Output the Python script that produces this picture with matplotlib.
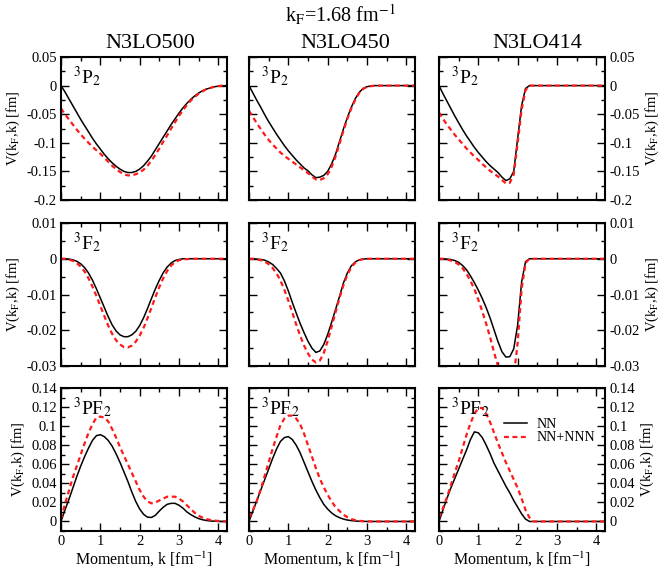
import matplotlib
matplotlib.use('Agg')
import matplotlib.pyplot as plt
from matplotlib.ticker import MultipleLocator, FuncFormatter

plt.rcParams['font.family'] = ['Liberation Serif', 'DejaVu Serif']
plt.rcParams['mathtext.fontset'] = 'stix'
plt.rcParams['axes.unicode_minus'] = False

# momentum grid [fm^-1]
k = [0.0, 0.1, 0.2, 0.3, 0.4, 0.5, 0.6, 0.7, 0.8, 0.9,
     1.0, 1.1, 1.2, 1.3, 1.4, 1.5, 1.6, 1.7, 1.8, 1.9,
     2.0, 2.1, 2.2, 2.3, 2.4, 2.5, 2.6, 2.7, 2.8, 2.9,
     3.0, 3.1, 3.2, 3.3, 3.4, 3.5, 3.6, 3.7, 3.8, 3.9,
     4.0, 4.1, 4.2]

# 3P2
p2_500_nn = [0.0, -0.011, -0.023, -0.035, -0.047, -0.059, -0.070, -0.081, -0.092, -0.102,
             -0.111, -0.120, -0.128, -0.135, -0.141, -0.146, -0.150, -0.152, -0.152, -0.150,
             -0.146, -0.140, -0.132, -0.123, -0.112, -0.101, -0.090, -0.079, -0.068, -0.058,
             -0.048, -0.039, -0.031, -0.024, -0.018, -0.013, -0.009, -0.006, -0.004, -0.002,
             -0.001, -0.0005, 0.0]
p2_500_3n = [-0.040, -0.050, -0.059, -0.068, -0.077, -0.085, -0.093, -0.100, -0.107, -0.113,
             -0.119, -0.126, -0.133, -0.140, -0.146, -0.151, -0.155, -0.157, -0.157, -0.155,
             -0.152, -0.147, -0.140, -0.131, -0.121, -0.110, -0.098, -0.087, -0.075, -0.064,
             -0.053, -0.043, -0.034, -0.026, -0.020, -0.014, -0.010, -0.006, -0.004, -0.002,
             -0.001, 0.0, 0.0]
p2_450_nn = [0.0, -0.013, -0.026, -0.038, -0.051, -0.063, -0.074, -0.085, -0.095, -0.105,
             -0.114, -0.122, -0.130, -0.137, -0.144, -0.149, -0.156, -0.161, -0.160, -0.157,
             -0.150, -0.137, -0.120, -0.098, -0.076, -0.056, -0.038, -0.023, -0.012, -0.005,
             -0.002, -0.0005, 0.0, 0.0, 0.0, 0.0, 0.0, 0.0, 0.0, 0.0,
             0.0, 0.0, 0.0]
p2_450_3n = [-0.044, -0.055, -0.066, -0.076, -0.086, -0.095, -0.103, -0.110, -0.117, -0.123,
             -0.128, -0.133, -0.138, -0.143, -0.148, -0.153, -0.159, -0.164, -0.165, -0.162,
             -0.155, -0.142, -0.124, -0.102, -0.079, -0.058, -0.040, -0.025, -0.013, -0.006,
             -0.002, -0.001, 0.0, 0.0, 0.0, 0.0, 0.0, 0.0, 0.0, 0.0,
             0.0, 0.0, 0.0]
p2_414_nn = [0.0, -0.014, -0.027, -0.040, -0.053, -0.065, -0.077, -0.088, -0.098, -0.108,
             -0.117, -0.125, -0.133, -0.140, -0.146, -0.152, -0.160, -0.166, -0.163, -0.150,
             -0.092, -0.035, -0.005, 0.0, 0.0, 0.0, 0.0, 0.0, 0.0, 0.0,
             0.0, 0.0, 0.0, 0.0, 0.0, 0.0, 0.0, 0.0, 0.0, 0.0,
             0.0, 0.0, 0.0]
p2_414_3n = [-0.047, -0.058, -0.068, -0.077, -0.086, -0.094, -0.102, -0.110, -0.117, -0.124,
             -0.130, -0.137, -0.143, -0.149, -0.154, -0.159, -0.165, -0.171, -0.170, -0.155,
             -0.100, -0.042, -0.008, 0.0, 0.0, 0.0, 0.0, 0.0, 0.0, 0.0,
             0.0, 0.0, 0.0, 0.0, 0.0, 0.0, 0.0, 0.0, 0.0, 0.0,
             0.0, 0.0, 0.0]

# 3F2
f2_500_nn = [0.0, 0.0, -0.0001, -0.0003, -0.0007, -0.0014, -0.0025, -0.0040, -0.0060, -0.0084,
             -0.0110, -0.0136, -0.0162, -0.0185, -0.0202, -0.0213, -0.0218, -0.0218, -0.0213, -0.0203,
             -0.0187, -0.0165, -0.0139, -0.0111, -0.0084, -0.0060, -0.0039, -0.0023, -0.0012, -0.0005,
             -0.0002, 0.0, 0.0, 0.0, 0.0, 0.0, 0.0, 0.0, 0.0, 0.0,
             0.0, 0.0, 0.0]
f2_500_3n = [0.0, 0.0, -0.0002, -0.0006, -0.0012, -0.0022, -0.0036, -0.0055, -0.0078, -0.0104,
             -0.0132, -0.0160, -0.0187, -0.0210, -0.0228, -0.0240, -0.0247, -0.0248, -0.0243, -0.0232,
             -0.0215, -0.0193, -0.0166, -0.0137, -0.0107, -0.0079, -0.0054, -0.0034, -0.0019, -0.0009,
             -0.0004, -0.0002, -0.0001, 0.0, 0.0, 0.0, 0.0, 0.0, 0.0, 0.0,
             0.0, 0.0, 0.0]
f2_450_nn = [0.0, 0.0, -0.0001, -0.0002, -0.0004, -0.0009, -0.0016, -0.0027, -0.0040, -0.0062,
             -0.0090, -0.0122, -0.0152, -0.0181, -0.0207, -0.0231, -0.0250, -0.0262, -0.0258, -0.0240,
             -0.0212, -0.0178, -0.0142, -0.0106, -0.0068, -0.0040, -0.0020, -0.0009, -0.0003, -0.0001,
             0.0, 0.0, 0.0, 0.0, 0.0, 0.0, 0.0, 0.0, 0.0, 0.0,
             0.0, 0.0, 0.0]
f2_450_3n = [0.0, 0.0, -0.0002, -0.0004, -0.0008, -0.0015, -0.0026, -0.0041, -0.0061, -0.0087,
             -0.0117, -0.0150, -0.0184, -0.0215, -0.0243, -0.0265, -0.0282, -0.0290, -0.0285, -0.0264,
             -0.0230, -0.0190, -0.0150, -0.0110, -0.0074, -0.0045, -0.0024, -0.0011, -0.0004, -0.0001,
             0.0, 0.0, 0.0, 0.0, 0.0, 0.0, 0.0, 0.0, 0.0, 0.0,
             0.0, 0.0, 0.0]
f2_414_nn = [0.0, 0.0, -0.0001, -0.0002, -0.0005, -0.0010, -0.0019, -0.0031, -0.0048, -0.0067,
             -0.0088, -0.0111, -0.0137, -0.0166, -0.0199, -0.0232, -0.0260, -0.0275, -0.0274, -0.0252,
             -0.0185, -0.0065, -0.0008, 0.0, 0.0, 0.0, 0.0, 0.0, 0.0, 0.0,
             0.0, 0.0, 0.0, 0.0, 0.0, 0.0, 0.0, 0.0, 0.0, 0.0,
             0.0, 0.0, 0.0]
f2_414_3n = [0.0, 0.0, -0.0002, -0.0005, -0.0009, -0.0016, -0.0027, -0.0042, -0.0062, -0.0085,
             -0.0115, -0.0147, -0.0182, -0.0220, -0.0262, -0.0300, -0.0325, -0.0338, -0.0338, -0.0330,
             -0.0235, -0.0085, -0.0012, 0.0, 0.0, 0.0, 0.0, 0.0, 0.0, 0.0,
             0.0, 0.0, 0.0, 0.0, 0.0, 0.0, 0.0, 0.0, 0.0, 0.0,
             0.0, 0.0, 0.0]

# 3PF2
pf2_500_nn = [0.0, 0.012, 0.023, 0.035, 0.047, 0.058, 0.068, 0.077, 0.085, 0.090,
              0.091, 0.089, 0.085, 0.079, 0.071, 0.062, 0.052, 0.042, 0.031, 0.021,
              0.013, 0.0075, 0.0045, 0.0042, 0.0065, 0.011, 0.015, 0.018, 0.019, 0.019,
              0.017, 0.014, 0.010, 0.0072, 0.0048, 0.0030, 0.0018, 0.0010, 0.0005, 0.0003,
              0.0001, 0.0, 0.0]
pf2_500_3n = [0.003, 0.018, 0.032, 0.046, 0.058, 0.070, 0.082, 0.093, 0.102, 0.109,
              0.110, 0.109, 0.105, 0.097, 0.088, 0.078, 0.069, 0.060, 0.051, 0.042,
              0.033, 0.026, 0.021, 0.019, 0.020, 0.022, 0.024, 0.026, 0.026, 0.026,
              0.024, 0.021, 0.017, 0.013, 0.009, 0.006, 0.004, 0.0025, 0.0015, 0.001,
              0.0005, 0.0002, 0.0]
pf2_450_nn = [0.0, 0.011, 0.022, 0.033, 0.044, 0.055, 0.066, 0.076, 0.084, 0.088,
              0.089, 0.086, 0.080, 0.072, 0.062, 0.052, 0.042, 0.033, 0.025, 0.018,
              0.013, 0.009, 0.006, 0.004, 0.0025, 0.0015, 0.0009, 0.0005, 0.0002, 0.0001,
              0.0, 0.0, 0.0, 0.0, 0.0, 0.0, 0.0, 0.0, 0.0, 0.0,
              0.0, 0.0, 0.0]
pf2_450_3n = [0.004, 0.012, 0.022, 0.034, 0.048, 0.062, 0.076, 0.089, 0.101, 0.108,
              0.111, 0.111, 0.108, 0.102, 0.092, 0.080, 0.068, 0.056, 0.045, 0.036,
              0.028, 0.021, 0.015, 0.011, 0.007, 0.0045, 0.0025, 0.0014, 0.0007, 0.0003,
              0.0001, 0.0, 0.0, 0.0, 0.0, 0.0, 0.0, 0.0, 0.0, 0.0,
              0.0, 0.0, 0.0]
pf2_414_nn = [0.0, 0.012, 0.024, 0.035, 0.045, 0.055, 0.065, 0.075, 0.086, 0.094,
              0.093, 0.088, 0.080, 0.071, 0.061, 0.053, 0.045, 0.037, 0.030, 0.022,
              0.015, 0.008, 0.0025, 0.0, 0.0, 0.0, 0.0, 0.0, 0.0, 0.0,
              0.0, 0.0, 0.0, 0.0, 0.0, 0.0, 0.0, 0.0, 0.0, 0.0,
              0.0, 0.0, 0.0]
pf2_414_3n = [0.004, 0.014, 0.025, 0.038, 0.051, 0.063, 0.077, 0.091, 0.103, 0.113,
              0.119, 0.119, 0.113, 0.104, 0.093, 0.082, 0.072, 0.062, 0.053, 0.044,
              0.035, 0.024, 0.012, 0.004, 0.0, 0.0, 0.0, 0.0, 0.0, 0.0,
              0.0, 0.0, 0.0, 0.0, 0.0, 0.0, 0.0, 0.0, 0.0, 0.0,
              0.0, 0.0, 0.0]

models = ['N3LO500', 'N3LO450', 'N3LO414']
waves = ['$^3$P$_2$', '$^3$F$_2$', '$^3$PF$_2$']
nn = [[p2_500_nn, p2_450_nn, p2_414_nn],
      [f2_500_nn, f2_450_nn, f2_414_nn],
      [pf2_500_nn, pf2_450_nn, pf2_414_nn]]
nnn = [[p2_500_3n, p2_450_3n, p2_414_3n],
       [f2_500_3n, f2_450_3n, f2_414_3n],
       [pf2_500_3n, pf2_450_3n, pf2_414_3n]]

ylims = [(-0.2, 0.05), (-0.03, 0.01), (-0.01, 0.14)]
ymajor = [0.05, 0.01, 0.02]
yminor = [0.025, 0.005, 0.01]


def fmt(v, pos):
    if abs(v) < 1e-9:
        return '0'
    return '%g' % round(v, 4)


W, H = 664, 570
lefts = [61, 249, 439]
tops = [57, 223, 388]
aw, ah = 166, 143

fig = plt.figure(figsize=(W / 100, H / 100), dpi=100)

for r in range(3):
    for c in range(3):
        ax = fig.add_axes([lefts[c] / W, 1 - (tops[r] + ah) / H, aw / W, ah / H])
        ax.plot(k, nn[r][c], color='black', lw=1.1, label='NN')
        ax.plot(k, nnn[r][c], color='#ff1a1a', lw=1.6, linestyle=(0, (2.2, 1.6)),
                label='NN+NNN')
        ax.set_xlim(0, 4.22)
        ax.set_ylim(*ylims[r])
        ax.xaxis.set_major_locator(MultipleLocator(1))
        ax.xaxis.set_minor_locator(MultipleLocator(0.5))
        ax.yaxis.set_major_locator(MultipleLocator(ymajor[r]))
        ax.yaxis.set_minor_locator(MultipleLocator(yminor[r]))
        ax.yaxis.set_major_formatter(FuncFormatter(fmt))
        ax.tick_params(which='both', direction='in', top=True, right=True,
                       labelsize=10.5, width=1.0, pad=3)
        ax.tick_params(which='major', length=5.5)
        ax.tick_params(which='minor', length=3)
        for sp in ax.spines.values():
            sp.set_linewidth(1.5)
        ax.text(0.07, 0.95, waves[r], transform=ax.transAxes, fontsize=14,
                ha='left', va='top')

        if r < 2:
            ax.tick_params(labelbottom=False)
        else:
            ax.set_xlabel('Momentum, k [fm$^{-1}$]', fontsize=11.5, labelpad=1)

        if c == 0:
            ax.set_ylabel('V(k$_\\mathrm{F}$,k) [fm]', fontsize=10.5, labelpad=3)
        elif c == 1:
            ax.tick_params(labelleft=False)
        else:
            ax.tick_params(labelleft=False, labelright=True)
            ax.yaxis.set_label_position('right')
            ax.set_ylabel('V(k$_\\mathrm{F}$,k) [fm]', fontsize=10.5, labelpad=3)

        if r == 2 and c == 2:
            ax.legend(loc='upper right', bbox_to_anchor=(0.99, 0.85), frameon=False,
                      fontsize=10, handlelength=1.6, labelspacing=0.05,
                      handletextpad=0.7, borderaxespad=0.2)

title_x = [150, 345, 537]
for c in range(3):
    fig.text(title_x[c] / W, 1 - 43 / H, models[c], ha='center', va='center',
             fontsize=16)
fig.text(340 / W, 1 - 15 / H, 'k$_\\mathrm{F}$=1.68 fm$^{-1}$', ha='center',
         va='center', fontsize=14.5)

fig.savefig('out.png', dpi=100)
